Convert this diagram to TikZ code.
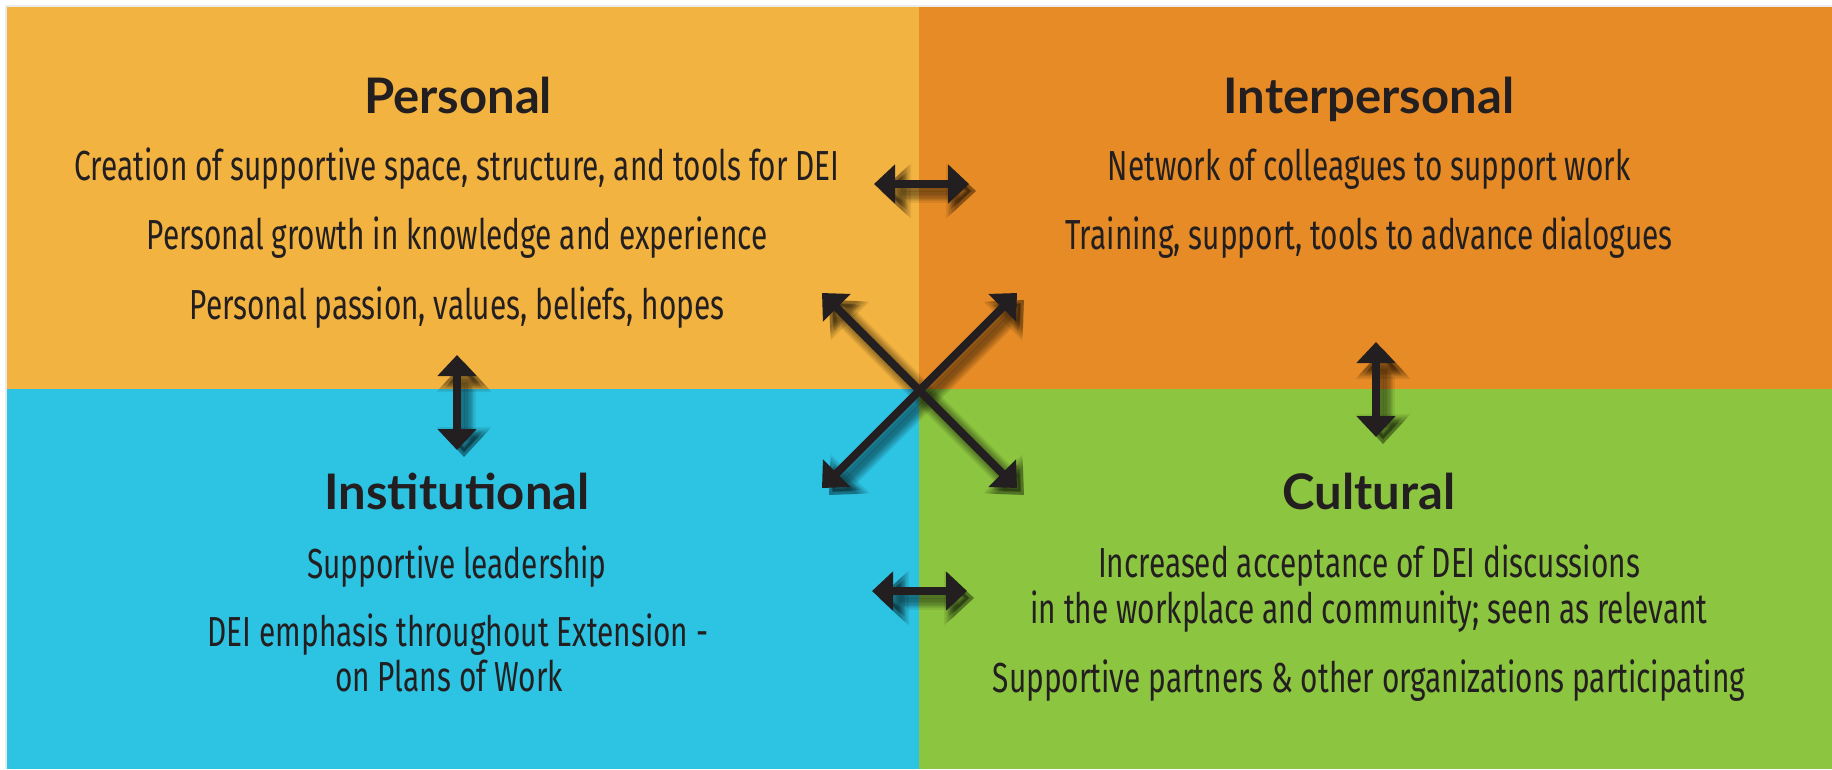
\documentclass[tikz,border=0pt]{standalone}
\usepackage{fontspec}
\usetikzlibrary{arrows.meta}
\newfontfamily\titlefont{Lato}
\newfontfamily\bodyfont{Fira Sans}[FakeStretch=0.71]
\definecolor{cyel}{HTML}{F3B340}
\definecolor{corg}{HTML}{E68B25}
\definecolor{cblu}{HTML}{2DC3E2}
\definecolor{cgrn}{HTML}{8CC540}
\definecolor{ctxt}{HTML}{231F20}
\tikzset{
  title/.style={font=\titlefont\bfseries\fontsize{49}{59}\selectfont, text=ctxt, anchor=base, inner sep=0pt},
  body/.style={font=\bodyfont\fontsize{42}{50}\selectfont, text=ctxt, anchor=base, inner sep=0pt},
  link/.style={draw=ctxt, line width=8pt, {Triangle[length=21pt,width=38pt]}-{Triangle[length=21pt,width=38pt]}},
}
\newcommand\linkshadow[2]{%
  \begin{scope}[transform canvas={shift={(7,7)}}]
    \foreach \k [evaluate=\k as \lw using 8+2.5*\k,
                 evaluate=\k as \hl using 21+1.5*\k,
                 evaluate=\k as \hw using 38+2.5*\k] in {0,...,6}{
      \draw[draw=black, fill=black, opacity=0.07, line width=\lw pt,
            {Triangle[length=\hl pt,width=\hw pt]}-{Triangle[length=\hl pt,width=\hw pt]}] (#1) -- (#2);
    }
  \end{scope}}
\begin{document}
\begin{tikzpicture}[x=1pt,y=-1pt]
\useasboundingbox (0,0) rectangle (1832,769);
\fill[white] (0,0) rectangle (1832,769);
\draw[black!8, line width=2pt] (6,769) -- (6,6) -- (1832,6);
% quadrants
\fill[cyel] (7,7) rectangle (919,389);
\fill[corg] (919,7) rectangle (1832,389);
\fill[cblu] (7,389) rectangle (919,769);
\fill[cgrn] (919,389) rectangle (1832,769);

% titles
\node[title] (tP) at (458,113) {Personal};
\node[title] (tI) at (1369,113) {Interpersonal};
\node[title] (tN) at (457,509) {Institutional};
\node[title] (tC) at (1369,509) {Cultural};

% texts
\node[body] (p1) at (457,180) {Creation of supportive space, structure, and tools for DEI};
\node[body] (p2) at (457,249) {Personal growth in knowledge and experience};
\node[body] (p3) at (457,319) {Personal passion, values, beliefs, hopes};
\node[body] (i1) at (1369,180) {Network of colleagues to support work};
\node[body] (i2) at (1369,249) {Training, support, tools to advance dialogues};
\node[body] (n1) at (457,578) {Supportive leadership};
\node[body] (n2) at (458,646) {DEI emphasis throughout Extension -};
\node[body] (n3) at (449,691) {on Plans of Work};
\node[body] (c1) at (1369,577) {Increased acceptance of DEI discussions};
\node[body] (c2) at (1369,623) {in the workplace and community; seen as relevant};
\node[body] (c3) at (1369,692) {Supportive partners \& other organizations participating};

% arrow end points
\coordinate (hA) at (874,184);
\coordinate (hB) at (969,184);
\coordinate (hC) at (872,591);
\coordinate (hD) at (967,591);
\coordinate (vA) at (457,355);
\coordinate (vB) at (457,450);
\coordinate (vC) at (1376,342);
\coordinate (vD) at (1376,437);
\coordinate (d1) at (822,293);
\coordinate (d2) at (1017,488);
\coordinate (d3) at (1017,293);
\coordinate (d4) at (822,488);

% shadows
\linkshadow{hA}{hB}
\linkshadow{hC}{hD}
\linkshadow{vA}{vB}
\linkshadow{vC}{vD}
\linkshadow{d1}{d2}
\linkshadow{d3}{d4}

% arrows
\draw[link] (hA) -- (hB);
\draw[link] (hC) -- (hD);
\draw[link] (vA) -- (vB);
\draw[link] (vC) -- (vD);
\draw[link] (d1) -- (d2);
\draw[link] (d3) -- (d4);
\end{tikzpicture}
\end{document}
